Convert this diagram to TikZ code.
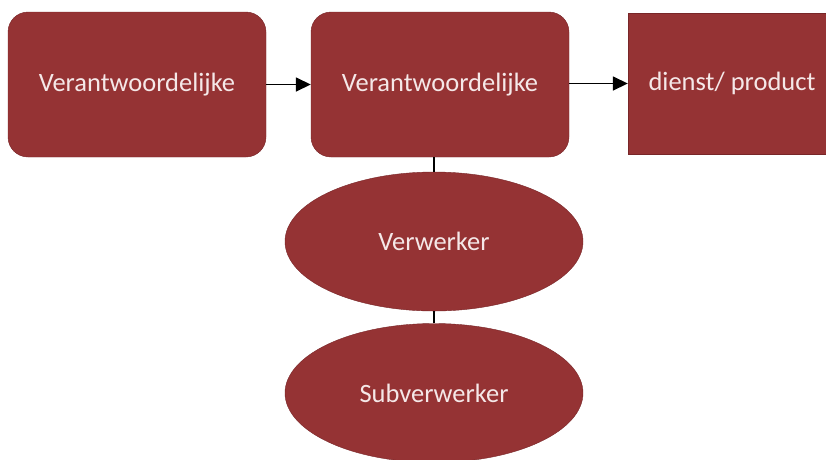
\documentclass[tikz,border=0pt]{standalone}
\usepackage{fontspec}
\setmainfont{Carlito}
\usetikzlibrary{shapes.geometric,arrows.meta}
\definecolor{wine}{RGB}{149,51,52}
\definecolor{wineedge}{RGB}{120,38,40}
\definecolor{paletext}{RGB}{245,232,232}
\tikzstyle{party} = [draw=wineedge, fill=wine, rectangle, rounded corners=20pt,
    minimum width=258pt, minimum height=145pt, text=paletext]
\tikzstyle{service} = [draw=wineedge, fill=wine, rectangle,
    minimum width=208pt, minimum height=141pt, text=paletext]
\tikzstyle{processor} = [draw=wineedge, fill=wine, ellipse,
    minimum width=298pt, minimum height=139pt, text=paletext]
\tikzstyle{flow} = [draw, line width=1.6pt, -{Triangle[length=15pt,width=14pt]}]

\begin{document}
\begin{tikzpicture}[x=1pt, y=-1pt, font=\fontsize{26.5}{30}\selectfont]
    \useasboundingbox (0,0) rectangle (826,459);
    \clip (0,0) rectangle (826,459);

    % Upper row
    % first controller
    \node [party] (resp1) at (137,84.5) {Verantwoordelijke};

    % second controller
    \node [party, right of=resp1, node distance=303pt] (resp2) {Verantwoordelijke};

    % service or product
    \node [service] (product) at (732,83.5) {dienst/ product};

    % Lower column
    \node [processor] (verwerker) at (434,241.5) {Verwerker};
    \node [processor, below of=verwerker, node distance=151.5pt] (subverwerker) {Subverwerker};

    % Connections
    \draw [flow] (resp1) -- (resp2);
    \draw [flow] (resp2.east |- product) -- (product);
    \draw [line width=1.4pt] (verwerker.north) -- (verwerker.north |- resp2.south);
    \draw [line width=1.4pt] (subverwerker.north) -- (verwerker.south);
\end{tikzpicture}
\end{document}
